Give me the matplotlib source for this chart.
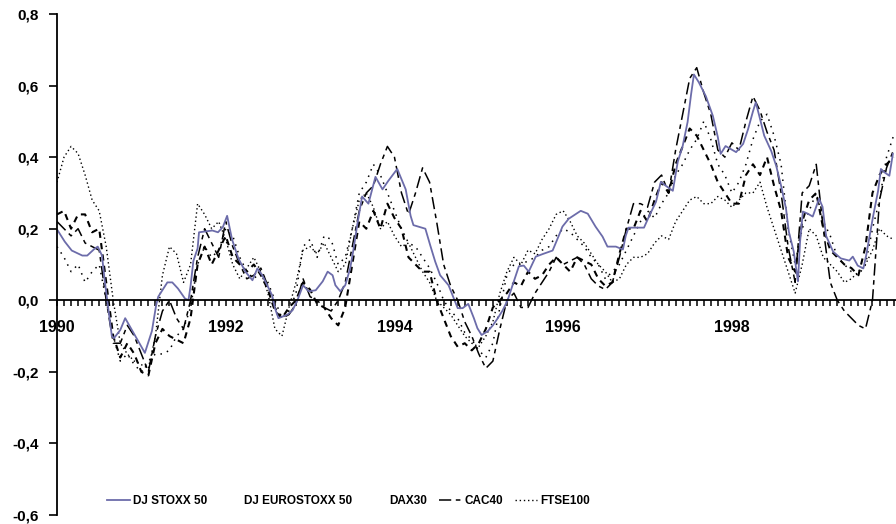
import matplotlib
matplotlib.use("Agg")
import matplotlib.pyplot as plt
from matplotlib.lines import Line2D
from matplotlib.ticker import FixedLocator, MultipleLocator, FuncFormatter

plt.rcParams["font.family"] = ["Liberation Sans", "DejaVu Sans"]
plt.rcParams["font.weight"] = "bold"

# ---- data: 12-month returns, x measured in months from January 1990 ----
year_labels = ["1990", "1992", "1994", "1996", "1998"]
year_months = [0, 24, 48, 72, 96]
y_ticks = [-0.6, -0.4, -0.2, 0.0, 0.2, 0.4, 0.6, 0.8]

series_names = ["DJ STOXX 50", "DJ EUROSTOXX 50", "DAX30", "CAC40", "FTSE100"]

stoxx_t = [0.1, 1.1, 2.1, 3.6, 4.3, 5.4, 5.8, 6.4, 6.8, 7.4,
           7.8, 8.1, 9.0, 9.7, 12.5, 13.5, 14.1, 14.4, 15.7, 16.4, 17.2,
           18.2, 18.7, 19.0, 19.4, 20.0, 20.2, 22.1, 22.9, 23.6, 24.2,
           24.9, 25.8, 26.8, 27.8, 28.5, 29.2, 29.9, 30.6, 31.0, 31.5,
           32.8, 33.5, 34.2, 35.0, 35.8, 36.8, 37.8, 38.5, 39.2, 39.6,
           40.3, 41.0, 41.7, 42.2, 42.7, 43.4, 44.3, 45.3, 46.3, 47.1,
           48.4, 49.6, 50.3, 50.7, 52.4, 53.1, 53.8, 54.5, 55.7, 57.0,
           57.7, 58.5, 59.3, 59.8, 60.4, 61.3, 62.0, 62.7, 63.4, 64.1,
           64.8, 65.7, 66.4, 67.1, 68.1, 69.2, 70.5, 71.2, 71.9, 72.8,
           74.5, 75.5, 76.6, 77.6, 78.3, 79.5, 80.5, 80.9, 81.3, 83.5,
           84.2, 85.2, 85.9, 86.6, 87.6, 88.3, 89.0, 89.7, 90.2, 90.6,
           91.3, 92.3, 93.3, 94.0, 94.4, 95.1, 96.6, 97.6, 98.3, 99.0,
           99.4, 99.9, 100.6, 101.6, 102.3, 103.0, 103.7, 104.1, 104.8, 105.4,
           105.7, 106.1, 106.8, 107.5, 108.4, 108.9, 109.4, 110.4, 111.5, 112.7,
           113.2, 113.9, 114.7, 115.1, 116.1, 116.8, 117.2, 117.6, 118.4, 118.9]
stoxx_v = [0.195, 0.164, 0.139, 0.125, 0.125, 0.145, 0.150, 0.125, 0.053, -0.040,
           -0.100, -0.106, -0.083, -0.050, -0.147, -0.086, -0.014, 0.010, 0.050, 0.050, 0.033,
           0.005, 0.000, 0.040, 0.110, 0.145, 0.190, 0.195, 0.190, 0.205, 0.236,
           0.170, 0.117, 0.080, 0.056, 0.089, 0.070, 0.042, 0.014, -0.022, -0.050,
           -0.040, -0.028, 0.000, 0.042, 0.025, 0.028, 0.053, 0.080, 0.070, 0.042,
           0.025, 0.042, 0.089, 0.145, 0.210, 0.290, 0.270, 0.345, 0.310, 0.333,
           0.367, 0.310, 0.236, 0.210, 0.200, 0.153, 0.108, 0.070, 0.042, -0.022,
           -0.022, -0.010, -0.050, -0.078, -0.097, -0.086, -0.070, -0.050, -0.028, 0.000,
           0.042, 0.095, 0.097, 0.080, 0.122, 0.130, 0.139, 0.172, 0.206, 0.228,
           0.250, 0.242, 0.206, 0.178, 0.150, 0.150, 0.142, 0.180, 0.203, 0.203,
           0.234, 0.275, 0.331, 0.320, 0.306, 0.387, 0.431, 0.498, 0.576, 0.631,
           0.609, 0.570, 0.515, 0.456, 0.409, 0.431, 0.414, 0.437, 0.478, 0.528,
           0.553, 0.515, 0.460, 0.417, 0.376, 0.320, 0.256, 0.192, 0.136, 0.053,
           0.164, 0.248, 0.242, 0.234, 0.284, 0.261, 0.180, 0.136, 0.117, 0.111,
           0.122, 0.097, 0.089, 0.125, 0.236, 0.306, 0.367, 0.359, 0.348, 0.409]

months = list(range(120))

eurostoxx = [0.24, 0.25, 0.20, 0.24, 0.24, 0.19, 0.20, 0.05, -0.10, -0.16,
             -0.12, -0.15, -0.20, -0.21, -0.12, -0.08, -0.10, -0.11, -0.12, -0.05,
             0.10, 0.15, 0.10, 0.14, 0.18, 0.12, 0.10, 0.08, 0.10, 0.07,
             0.03, -0.03, -0.05, -0.02, 0.00, 0.05, 0.03, -0.01, -0.02, -0.05,
             -0.07, -0.02, 0.10, 0.22, 0.20, 0.25, 0.20, 0.27, 0.23, 0.20,
             0.12, 0.10, 0.08, 0.08, 0.00, -0.05, -0.10, -0.13, -0.12, -0.14,
             -0.12, -0.08, -0.02, 0.00, 0.02, 0.05, 0.04, 0.08, 0.06, 0.07,
             0.10, 0.12, 0.10, 0.08, 0.12, 0.11, 0.10, 0.06, 0.04, 0.05,
             0.13, 0.20, 0.20, 0.25, 0.22, 0.28, 0.33, 0.30, 0.38, 0.43,
             0.48, 0.46, 0.42, 0.38, 0.33, 0.30, 0.27, 0.27, 0.35, 0.38,
             0.35, 0.40, 0.32, 0.25, 0.12, 0.08, 0.22, 0.28, 0.30, 0.20,
             0.14, 0.12, 0.10, 0.09, 0.07, 0.15, 0.30, 0.35, 0.38, 0.40]

dax = [0.15, 0.12, 0.08, 0.10, 0.05, 0.08, 0.10, 0.00, -0.10, -0.17,
       -0.15, -0.18, -0.20, -0.17, -0.15, -0.15, -0.14, -0.10, -0.08, -0.02,
       0.10, 0.15, 0.12, 0.14, 0.20, 0.18, 0.12, 0.08, 0.06, 0.08,
       0.05, 0.00, -0.05, -0.03, 0.02, 0.15, 0.17, 0.12, 0.18, 0.17,
       0.10, 0.12, 0.20, 0.30, 0.33, 0.38, 0.35, 0.30, 0.25, 0.20,
       0.16, 0.15, 0.12, 0.09, 0.05, 0.00, -0.03, -0.05, -0.09, -0.11,
       -0.14, -0.16, -0.12, -0.02, 0.07, 0.10, 0.10, 0.11, 0.12, 0.14,
       0.15, 0.18, 0.20, 0.19, 0.17, 0.15, 0.12, 0.10, 0.06, 0.08,
       0.10, 0.14, 0.18, 0.22, 0.25, 0.23, 0.27, 0.30, 0.35, 0.38,
       0.42, 0.45, 0.50, 0.45, 0.38, 0.35, 0.30, 0.33, 0.38, 0.45,
       0.50, 0.52, 0.46, 0.38, 0.20, 0.10, 0.20, 0.25, 0.30, 0.22,
       0.18, 0.12, 0.10, 0.08, 0.07, 0.10, 0.20, 0.28, 0.40, 0.46]

cac = [0.22, 0.20, 0.18, 0.20, 0.16, 0.15, 0.14, 0.00, -0.12, -0.12,
       -0.07, -0.10, -0.15, -0.20, -0.10, -0.03, 0.00, -0.05, -0.08, 0.00,
       0.12, 0.20, 0.16, 0.12, 0.22, 0.15, 0.10, 0.06, 0.07, 0.09,
       0.04, -0.02, -0.05, -0.04, -0.01, 0.06, 0.01, 0.00, -0.02, -0.03,
       0.00, 0.05, 0.15, 0.25, 0.30, 0.32, 0.38, 0.43, 0.40, 0.30,
       0.24, 0.30, 0.37, 0.33, 0.22, 0.10, 0.04, 0.00, -0.06, -0.10,
       -0.15, -0.19, -0.17, -0.08, 0.00, 0.02, -0.02, -0.02, 0.02, 0.05,
       0.08, 0.12, 0.10, 0.11, 0.12, 0.10, 0.06, 0.04, 0.03, 0.05,
       0.12, 0.20, 0.27, 0.27, 0.26, 0.33, 0.35, 0.30, 0.42, 0.52,
       0.62, 0.65, 0.58, 0.52, 0.42, 0.40, 0.44, 0.42, 0.50, 0.57,
       0.53, 0.47, 0.42, 0.30, 0.15, 0.05, 0.30, 0.32, 0.38, 0.20,
       0.05, 0.00, -0.03, -0.05, -0.07, -0.08, 0.00, 0.28, 0.37, 0.42]

ftse = [0.33, 0.40, 0.43, 0.41, 0.35, 0.28, 0.25, 0.15, 0.00, -0.12,
        -0.15, -0.17, -0.18, -0.19, -0.10, 0.07, 0.15, 0.13, 0.05, 0.10,
        0.27, 0.24, 0.20, 0.22, 0.17, 0.10, 0.06, 0.09, 0.12, 0.08,
        0.02, -0.08, -0.10, -0.02, 0.05, 0.14, 0.15, 0.13, 0.16, 0.12,
        0.08, 0.10, 0.20, 0.28, 0.30, 0.26, 0.20, 0.22, 0.18, 0.15,
        0.16, 0.12, 0.08, 0.05, 0.00, -0.02, -0.04, -0.07, -0.10, -0.12,
        -0.13, -0.10, -0.06, 0.02, 0.08, 0.12, 0.10, 0.14, 0.13, 0.17,
        0.20, 0.24, 0.25, 0.22, 0.18, 0.16, 0.13, 0.10, 0.08, 0.05,
        0.06, 0.10, 0.12, 0.12, 0.13, 0.16, 0.18, 0.17, 0.22, 0.25,
        0.28, 0.29, 0.27, 0.27, 0.29, 0.28, 0.26, 0.28, 0.30, 0.30,
        0.33, 0.26, 0.20, 0.14, 0.08, 0.02, 0.10, 0.20, 0.18, 0.12,
        0.10, 0.08, 0.05, 0.06, 0.08, 0.10, 0.14, 0.20, 0.18, 0.17]

# ---- styles ----
purple = "#6c6caa"
style_euro = dict(color="black", lw=1.5, ls=(0, (3, 2.5)))
style_dax = dict(color="black", lw=1.1, ls=(0, (1, 3.5)))
style_cac = dict(color="black", lw=1.1, ls=(0, (8, 3, 3, 3)))
style_ftse = dict(color="black", lw=1.0, ls=(0, (1, 2)))

W, H = 896, 524
fig = plt.figure(figsize=(W / 100, H / 100), dpi=100)
left_px, top_px, bottom_px = 57, 14, 515
ax = fig.add_axes([left_px / W, (H - bottom_px) / H,
                   1 - left_px / W, (bottom_px - top_px) / H])

ax.plot(months, ftse, **style_ftse)
ax.plot(months, dax, **style_dax)
ax.plot(months, cac, **style_cac)
ax.plot(months, eurostoxx, **style_euro)
ax.plot(stoxx_t, stoxx_v, color=purple, lw=1.3)

ax.set_xlim(0, (W - left_px) / 7.03)
ax.set_ylim(-0.6, 0.8)

for side in ("top", "right"):
    ax.spines[side].set_visible(False)
ax.spines["bottom"].set_position(("data", 0))
ax.spines["bottom"].set_linewidth(1.3)
ax.spines["left"].set_linewidth(1.3)

ax.yaxis.set_major_locator(FixedLocator(y_ticks))
ax.yaxis.set_major_formatter(FuncFormatter(
    lambda v, _: ("%.1f" % (0.0 if abs(v) < 1e-9 else v)).replace(".", ",")))
ax.tick_params(axis="y", direction="out", length=6, width=1.2, pad=7,
               labelsize=11)

ax.xaxis.set_major_locator(FixedLocator(year_months))
ax.set_xticklabels(year_labels)
ax.xaxis.set_minor_locator(MultipleLocator(1))
ax.tick_params(axis="x", which="both", direction="out", length=4, width=1.1)
ax.tick_params(axis="x", which="major", pad=10, labelsize=11.5)

handles = [
    Line2D([], [], color=purple, lw=1.3),
    Line2D([], [], linestyle="none"),
    Line2D([], [], linestyle="none"),
    Line2D([], [], **style_cac),
    Line2D([], [], **style_ftse),
]
fig.legend(handles, series_names, loc="center", bbox_to_anchor=(0.389, 0.044),
           ncol=5, frameon=False, prop={"weight": "bold", "size": 8.5},
           handlelength=1.9, handletextpad=0.25, columnspacing=1.0)

fig.savefig("out.png", dpi=100)
